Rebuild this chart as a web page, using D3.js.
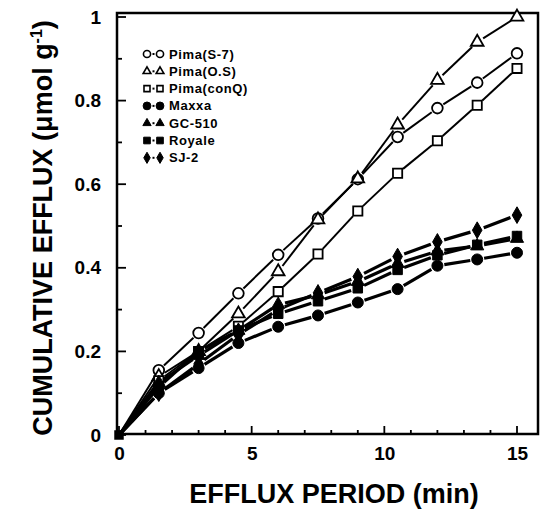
<!DOCTYPE html>
<html>
<head>
<meta charset="utf-8">
<script src="https://cdn.jsdelivr.net/npm/d3@7"></script>
<style>
  body { margin: 0; background: #fff; }
  text { font-family: "Liberation Sans", Arial, sans-serif; font-weight: bold; fill: #000; }
</style>
</head>
<body>
<svg width="545" height="512"></svg>
<script>
// efflux period (min)
const times = [0, 1.5, 3, 4.5, 6, 7.5, 9, 10.5, 12, 13.5, 15];

const pimaS7   = [0, 0.155, 0.244, 0.339, 0.431, 0.518, 0.612, 0.713, 0.782, 0.843, 0.913];
const pimaOS   = [0, 0.14, 0.20, 0.29, 0.391, 0.515, 0.613, 0.742, 0.849, 0.94, 1.0];
const pimaConQ = [0, 0.13, 0.20, 0.26, 0.343, 0.433, 0.536, 0.626, 0.704, 0.789, 0.877];
const maxxa    = [0, 0.10, 0.16, 0.22, 0.259, 0.286, 0.317, 0.349, 0.405, 0.42, 0.436];
const gc510    = [0, 0.125, 0.19, 0.25, 0.312, 0.335, 0.367, 0.41, 0.44, 0.452, 0.47];
const royale   = [0, 0.115, 0.20, 0.25, 0.29, 0.32, 0.351, 0.395, 0.43, 0.455, 0.476];
const sj2      = [0, 0.10, 0.17, 0.24, 0.30, 0.34, 0.379, 0.427, 0.462, 0.49, 0.526];

const seriesNames = ["Pima(S-7)", "Pima(O.S)", "Pima(conQ)", "Maxxa", "GC-510", "Royale", "SJ-2"];
const seriesValues = [pimaS7, pimaOS, pimaConQ, maxxa, gc510, royale, sj2];

const xTicks = [0, 5, 10, 15];
const yTicks = [0, 0.2, 0.4, 0.6, 0.8, 1];

const shapes = [d3.symbolCircle, d3.symbolTriangle, d3.symbolSquare,
                d3.symbolCircle, d3.symbolTriangle, d3.symbolSquare, d3.symbolDiamond];
const filled = [false, false, false, true, true, true, true];
const sizes = [90, 70, 85, 95, 75, 90, 80];
const legendSizes = [40, 26, 36, 48, 30, 44, 36];

const svg = d3.select("svg");

const x = d3.scaleLinear().domain([0, 15]).range([119, 517]);
const y = d3.scaleLinear().domain([0, 1]).range([435, 17]);

// frame
svg.append("rect")
  .attr("x", 117).attr("y", 13)
  .attr("width", 421).attr("height", 421)
  .attr("fill", "none").attr("stroke", "#000").attr("stroke-width", 2.5);

// bottom axis, ticks inward
const xAxis = d3.axisBottom(x).tickValues(xTicks).tickSize(0).tickPadding(13)
  .tickFormat(d3.format("d"));
const gx = svg.append("g").attr("transform", "translate(0,434)").call(xAxis);
gx.select(".domain").remove();
gx.selectAll("text").style("font-size", "19px");
svg.append("g").selectAll("line").data(d3.range(0, 16))
  .join("line")
  .attr("x1", d => x(d)).attr("x2", d => x(d))
  .attr("y1", 434).attr("y2", d => d % 5 === 0 ? 426 : 430)
  .attr("stroke", "#000").attr("stroke-width", 1.8);

// left axis
const yAxis = d3.axisLeft(y).tickValues(yTicks).tickSize(0).tickPadding(16)
  .tickFormat(d => d === 0 || d === 1 ? d3.format("d")(d) : d3.format(".1f")(d));
const gy = svg.append("g").attr("transform", "translate(117,0)").call(yAxis);
gy.select(".domain").remove();
gy.selectAll("text").style("font-size", "19px");
svg.append("g").selectAll("line").data(d3.range(0, 11))
  .join("line")
  .attr("x1", 117).attr("x2", d => d % 2 === 0 ? 126 : 122)
  .attr("y1", d => y(d / 10)).attr("y2", d => y(d / 10))
  .attr("stroke", "#000").attr("stroke-width", 1.8);

// axis titles
svg.append("text")
  .attr("x", 334).attr("y", 503)
  .attr("text-anchor", "middle")
  .style("font-size", "27px")
  .text("EFFLUX PERIOD (min)");

const yt = svg.append("text")
  .attr("transform", "translate(52,228) rotate(-90)")
  .attr("text-anchor", "middle")
  .style("font-size", "27px");
yt.append("tspan").text("CUMULATIVE EFFLUX (\u03bcmol g");
yt.append("tspan").attr("dy", -10).style("font-size", "16px").text("-1");
yt.append("tspan").attr("dy", 10).text(")");

// series lines, broken around markers
const gap = 7;
seriesValues.forEach((vals, si) => {
  const pts = times.map((t, i) => [x(t), y(vals[i])]);
  const segs = [];
  for (let i = 0; i < pts.length - 1; i++) {
    const [x1, y1] = pts[i], [x2, y2] = pts[i + 1];
    const len = Math.hypot(x2 - x1, y2 - y1);
    if (len <= gap * 2) continue;
    const ux = (x2 - x1) / len, uy = (y2 - y1) / len;
    const g0 = i === 0 ? 2 : gap;
    segs.push([x1 + ux * g0, y1 + uy * g0, x2 - ux * gap, y2 - uy * gap]);
  }
  svg.append("g").selectAll("line").data(segs).join("line")
    .attr("x1", d => d[0]).attr("y1", d => d[1])
    .attr("x2", d => d[2]).attr("y2", d => d[3])
    .attr("stroke", "#000")
    .attr("stroke-width", filled[si] ? 3.2 : 2);
});

// markers
seriesValues.forEach((vals, si) => {
  svg.append("g").selectAll("path").data(times.map((t, i) => [t, vals[i]]).slice(1))
    .join("path")
    .attr("transform", d => `translate(${x(d[0])},${y(d[1])})`)
    .attr("d", d3.symbol().type(shapes[si]).size(sizes[si]))
    .attr("fill", filled[si] ? "#000" : "#fff")
    .attr("stroke", "#000")
    .attr("stroke-width", filled[si] ? 1 : 1.8);
});
// origin marker
svg.append("path")
  .attr("transform", `translate(${x(0)},${y(0)})`)
  .attr("d", d3.symbol().type(d3.symbolSquare).size(90))
  .attr("fill", "#000");

// legend
const legend = svg.append("g").attr("transform", "translate(147,54)");
seriesNames.forEach((name, i) => {
  const row = legend.append("g").attr("transform", `translate(0,${i * 17.3})`);
  const sym = d3.symbol().type(shapes[i]).size(legendSizes[i]);
  [0, 13].forEach(dx => {
    row.append("path")
      .attr("transform", `translate(${dx},0)`)
      .attr("d", sym)
      .attr("fill", filled[i] ? "#000" : "#fff")
      .attr("stroke", "#000")
      .attr("stroke-width", filled[i] ? 1 : 1.6);
  });
  row.append("line")
    .attr("x1", 5.5).attr("x2", 7.5).attr("y1", 0).attr("y2", 0)
    .attr("stroke", "#000").attr("stroke-width", 2);
  row.append("text")
    .attr("x", 22).attr("y", 4.5)
    .style("font-size", "13px")
    .style("letter-spacing", "0.6px")
    .text(name);
});
</script>
</body>
</html>
